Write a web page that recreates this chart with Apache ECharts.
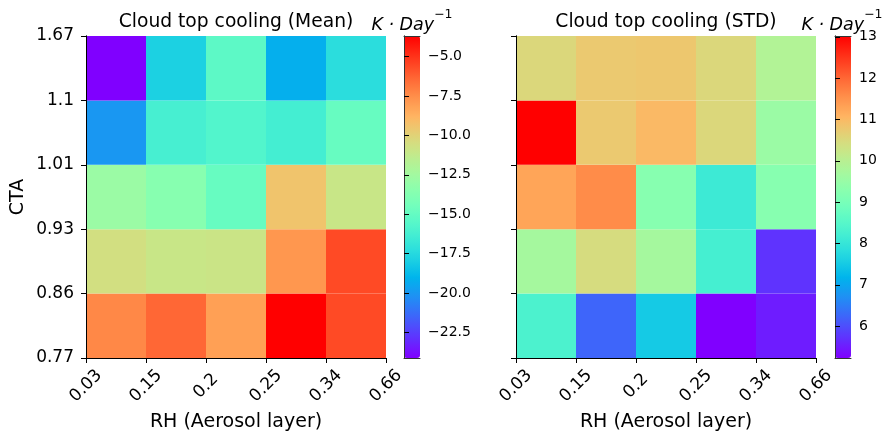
<!DOCTYPE html>
<html>
<head>
<meta charset="utf-8">
<script src="https://cdn.jsdelivr.net/npm/echarts@6/dist/echarts.min.js"></script>
<style>
  html, body { margin: 0; padding: 0; background: #fff; }
  #chart { width: 885px; height: 432px; }
</style>
</head>
<body>
<div id="chart"></div>
<script>
// Bin edges along each axis
const rhTicks = ['0.03', '0.15', '0.2', '0.25', '0.34', '0.66'];
const ctaTicks = ['0.77', '0.86', '0.93', '1.01', '1.1', '1.67'];

// Cloud top cooling mean (K/day); rows run from CTA 0.77–0.86 (bottom) up to 1.1–1.67 (top)
const meanRow1 = [-7.35, -6.4, -8.1, -3.69, -5.6];
const meanRow2 = [-10.6, -11.0, -10.9, -7.8, -5.6];
const meanRow3 = [-12.8, -13.6, -14.9, -9.4, -11.0];
const meanRow4 = [-20.0, -16.2, -15.75, -16.3, -14.9];
const meanRow5 = [-24.13, -17.9, -15.3, -19.2, -17.3];

// Cloud top cooling standard deviation (K/day), same row order
const stdRow1 = [8.34, 6.24, 7.5, 5.23, 5.5];
const stdRow2 = [9.71, 10.45, 9.7, 8.23, 5.73];
const stdRow3 = [11.27, 11.58, 9.24, 8.11, 9.24];
const stdRow4 = [13.02, 10.77, 11.0, 10.53, 9.55];
const stdRow5 = [10.53, 10.77, 10.8, 10.53, 9.9];

// Colorbar tick values
const meanBarTicks = [-22.5, -20, -17.5, -15, -12.5, -10, -7.5, -5];
const stdBarTicks = [6, 7, 8, 9, 10, 11, 12, 13];

const meanRows = [meanRow1, meanRow2, meanRow3, meanRow4, meanRow5];
const stdRows = [stdRow1, stdRow2, stdRow3, stdRow4, stdRow5];

const FONT = 'DejaVu Sans';

// matplotlib "rainbow" colormap
function rainbow(t) {
  const r = Math.min(1, Math.abs(2 * t - 0.5));
  const g = Math.sin(Math.PI * t);
  const b = Math.cos(Math.PI * t / 2);
  const c = v => Math.round(Math.max(0, Math.min(1, v)) * 255);
  return 'rgb(' + c(r) + ',' + c(g) + ',' + c(b) + ')';
}
const palette = [];
for (let i = 0; i <= 64; i++) palette.push(rainbow(i / 64));

function toCells(rows) {
  const out = [];
  rows.forEach((row, j) => row.forEach((v, i) => out.push([i, j, v])));
  return out;
}
const meanCells = toCells(meanRows);
const stdCells = toCells(stdRows);
const flat = rows => rows.reduce((a, r) => a.concat(r), []);
const meanMin = Math.min(...flat(meanRows)), meanMax = Math.max(...flat(meanRows));
const stdMin = Math.min(...flat(stdRows)), stdMax = Math.max(...flat(stdRows));

const minus = s => String(s).replace('-', '\u2212');

const heatGrids = [
  { left: 86, top: 36, width: 300, height: 322, outerBoundsMode: 'none' },
  { left: 516, top: 36, width: 300, height: 322, outerBoundsMode: 'none' }
];
const barGrids = [
  { left: 404, top: 36, width: 16, height: 322, outerBoundsMode: 'none' },
  { left: 835, top: 36, width: 16, height: 322, outerBoundsMode: 'none' }
];

const spine = { show: true, lineStyle: { color: '#000', width: 1 } };
const noTick = { show: false };
const noLabel = { show: false };
const noSplit = { show: false };

const xAxes = [];
const yAxes = [];

function addHeatAxes(gridIndex, withYLabels) {
  xAxes.push({
    type: 'value', gridIndex, min: 0, max: 5, interval: 1, position: 'bottom', z: 10,
    axisLine: spine,
    axisTick: { show: true, length: 5, lineStyle: { color: '#000', width: 1 } },
    axisLabel: {
      formatter: v => rhTicks[Math.round(v)], rotate: 45, align: 'center', verticalAlign: 'middle',
      margin: 28, fontSize: 17, color: '#000', fontFamily: FONT
    },
    splitLine: noSplit,
    name: 'RH (Aerosol layer)', nameLocation: 'middle', nameGap: 52,
    nameTextStyle: { fontSize: 19, color: '#000', fontFamily: FONT }
  });
  xAxes.push({
    type: 'value', gridIndex, min: 0, max: 5, position: 'top', z: 10,
    axisLine: spine, axisTick: noTick, axisLabel: noLabel, splitLine: noSplit
  });
  yAxes.push({
    type: 'value', gridIndex, min: 0, max: 5, interval: 1, position: 'left', z: 10,
    axisLine: spine,
    axisTick: { show: true, length: 5, lineStyle: { color: '#000', width: 1 } },
    axisLabel: {
      show: withYLabels, formatter: v => ctaTicks[Math.round(v)],
      margin: 12, fontSize: 17, color: '#000', fontFamily: FONT
    },
    splitLine: noSplit,
    name: withYLabels ? 'CTA' : '', nameLocation: 'middle', nameGap: 58,
    nameTextStyle: { fontSize: 19, color: '#000', fontFamily: FONT }
  });
  yAxes.push({
    type: 'value', gridIndex, min: 0, max: 5, position: 'right', z: 10,
    axisLine: spine, axisTick: noTick, axisLabel: noLabel, splitLine: noSplit
  });
}

function addBarAxes(gridIndex, vmin, vmax, ticks, fmt) {
  const outline = { show: true, lineStyle: { color: '#333', width: 1 } };
  xAxes.push({ type: 'value', gridIndex, min: 0, max: 1, position: 'bottom', z: 10,
    axisLine: outline, axisTick: noTick, axisLabel: noLabel, splitLine: noSplit });
  xAxes.push({ type: 'value', gridIndex, min: 0, max: 1, position: 'top', z: 10,
    axisLine: outline, axisTick: noTick, axisLabel: noLabel, splitLine: noSplit });
  yAxes.push({ type: 'value', gridIndex, min: vmin, max: vmax, position: 'left', z: 10,
    axisLine: outline, axisTick: noTick, axisLabel: noLabel, splitLine: noSplit });
  yAxes.push({
    type: 'value', gridIndex, min: vmin, max: vmax, position: 'right', z: 10,
    axisLine: outline,
    axisTick: { show: true, length: 5, customValues: ticks, lineStyle: { color: '#000', width: 1 } },
    axisLabel: { customValues: ticks, formatter: fmt, margin: 8, fontSize: 14, color: '#000', fontFamily: FONT },
    splitLine: noSplit
  });
}

addHeatAxes(0, true);
addBarAxes(1, meanMin, meanMax, meanBarTicks, v => minus(v.toFixed(1)));
addHeatAxes(2, false);
addBarAxes(3, stdMin, stdMax, stdBarTicks, v => String(Math.round(v)));

function renderCell(params, api) {
  const i = api.value(0), j = api.value(1);
  const p0 = api.coord([i, j + 1]);
  const p1 = api.coord([i + 1, j]);
  return {
    type: 'rect',
    shape: { x: p0[0], y: p0[1], width: p1[0] - p0[0], height: p1[1] - p0[1] },
    style: { fill: api.visual('color') }
  };
}

// Colorbar unit label, "K·Day" with a raised "−1"
function unitTitle(cx) {
  return {
    text: '{k|K \u00b7 Day}{s|\u22121}', left: cx, top: 3, textAlign: 'center',
    textStyle: {
      fontWeight: 'normal',
      rich: {
        k: { fontSize: 17.5, fontStyle: 'italic', fontWeight: 'normal', fontFamily: FONT, color: '#000', lineHeight: 26, verticalAlign: 'bottom' },
        s: { fontSize: 12.5, fontWeight: 'normal', fontFamily: FONT, color: '#000', lineHeight: 15, verticalAlign: 'top' }
      }
    }
  };
}

const titleStyle = { fontSize: 18.7, fontWeight: 'normal', color: '#000', fontFamily: FONT };

const option = {
  animation: false,
  backgroundColor: '#fff',
  textStyle: { fontFamily: FONT },
  title: [
    { text: 'Cloud top cooling (Mean)', left: 231, top: 8, textAlign: 'center', textStyle: titleStyle },
    { text: 'Cloud top cooling (STD)', left: 661, top: 8, textAlign: 'center', textStyle: titleStyle },
    unitTitle(407),
    unitTitle(837)
  ],
  grid: [heatGrids[0], barGrids[0], heatGrids[1], barGrids[1]],
  xAxis: xAxes,
  yAxis: yAxes,
  visualMap: [
    {
      type: 'continuous', seriesIndex: 0, dimension: 2, min: meanMin, max: meanMax,
      inRange: { color: palette }, orient: 'vertical', left: 404, top: 36,
      itemWidth: 16, itemHeight: 322, padding: 0, calculable: false, hoverLink: false
    },
    {
      type: 'continuous', seriesIndex: 1, dimension: 2, min: stdMin, max: stdMax,
      inRange: { color: palette }, orient: 'vertical', left: 835, top: 36,
      itemWidth: 16, itemHeight: 322, padding: 0, calculable: false, hoverLink: false
    }
  ],
  series: [
    { type: 'custom', xAxisIndex: 0, yAxisIndex: 0, data: meanCells, encode: { x: 0, y: 1 }, renderItem: renderCell },
    { type: 'custom', xAxisIndex: 4, yAxisIndex: 4, data: stdCells, encode: { x: 0, y: 1 }, renderItem: renderCell }
  ]
};

const chart = echarts.init(document.getElementById('chart'), null, { renderer: 'canvas' });
chart.setOption(option);
</script>
</body>
</html>
